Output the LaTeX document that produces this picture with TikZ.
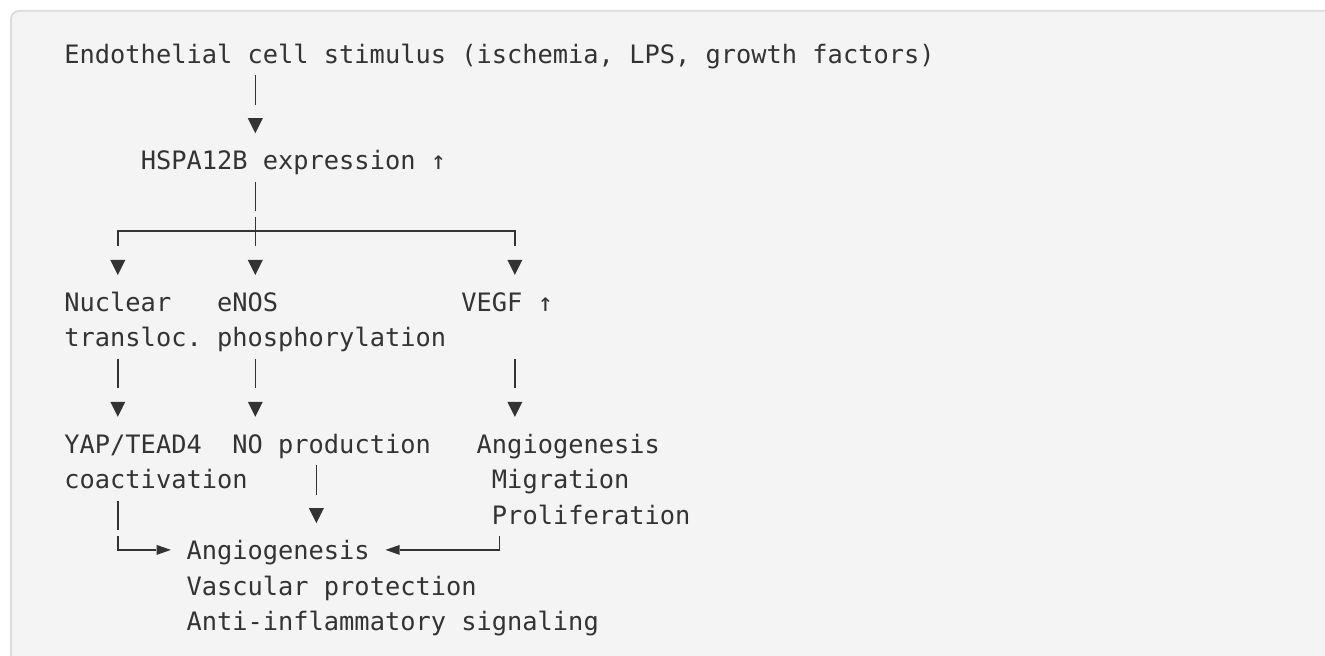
\documentclass[tikz,border=0pt]{standalone}
\usepackage{fontspec}
\newfontfamily\monofam{DejaVu Sans Mono}
\definecolor{ink}{HTML}{333333}
\definecolor{panel}{HTML}{F4F4F4}
\definecolor{rim}{HTML}{DDDDDD}
% a vertical bar filling one text cell, and a downward triangle in one cell
\newcommand\glyphbar[2]{\draw[bar] ({cx(#1)},{rb(#2)-23.4}) -- ({cx(#1)},{rb(#2)+5.9});}
\newcommand\glyphtip[2]{\fill[ink] ({cx(#1)-7.5},{rb(#2)-16}) -- ({cx(#1)+7.5},{rb(#2)-16}) -- ({cx(#1)},{rb(#2)-1}) -- cycle;}
\begin{document}
\begin{tikzpicture}[x=0.5pt, y=-0.5pt,
  declare function={lx(\cc)=64.4+15.27*\cc; cx(\cc)=64.4+15.27*(\cc+0.5);
                    rb(\rr)=63.3+35.45*\rr; hy(\rr)=63.3+35.45*\rr-9.7;},
  txt/.style={anchor=base west, inner sep=0pt, outer sep=0pt, text=ink,
              font=\monofam\fontsize{12.68pt}{15pt}\selectfont},
  bar/.style={draw=ink, line width=0.75pt, line cap=butt, line join=miter}]
\useasboundingbox (0,0) rectangle (1325,656);
\clip (0,0) rectangle (1325,656);
\fill[white] (0,0) rectangle (1325,656);
\draw[draw=rim, fill=panel, line width=1pt, rounded corners=4pt] (11,11) rectangle (1360,700);

% labels, laid out on the character grid
\node[txt] (stim) at ({lx(0)},{rb(0)}) {Endothelial cell stimulus (ischemia, LPS, growth factors)};
\node[txt] (hspa) at ({lx(5)},{rb(3)}) {HSPA12B expression ↑};
\node[txt] (nuc)  at ({lx(0)},{rb(7)}) {Nuclear};
\node[txt] (nucb) at ({lx(0)},{rb(8)}) {transloc.};
\node[txt] (enos) at ({lx(10)},{rb(7)}) {eNOS};
\node[txt] (enosb) at ({lx(10)},{rb(8)}) {phosphorylation};
\node[txt] (vegf) at ({lx(26)},{rb(7)}) {VEGF ↑};
\node[txt] (yap)  at ({lx(0)},{rb(11)}) {YAP/TEAD4};
\node[txt] (yapb) at ({lx(0)},{rb(12)}) {coactivation};
\node[txt] (no)   at ({lx(11)},{rb(11)}) {NO production};
\node[txt] (vang) at ({lx(27)},{rb(11)}) {Angiogenesis};
\node[txt] (vmig) at ({lx(28)},{rb(12)}) {Migration};
\node[txt] (vpro) at ({lx(28)},{rb(13)}) {Proliferation};
\node[txt] (out)  at ({lx(8)},{rb(14)}) {Angiogenesis};
\node[txt] (outb) at ({lx(8)},{rb(15)}) {Vascular protection};
\node[txt] (outc) at ({lx(8)},{rb(16)}) {Anti-inflammatory signaling};

% stimulus -> HSPA12B
\glyphbar{12}{1}
\glyphtip{12}{2}
% HSPA12B -> three branches
\glyphbar{12}{4}
\draw[bar] ({cx(3)},{rb(5)+5.9}) -- ({cx(3)},{hy(5)}) -- ({cx(29)},{hy(5)}) -- ({cx(29)},{rb(5)+5.9});
\draw[bar] ({cx(12)},{rb(5)-23.4}) -- ({cx(12)},{rb(5)+5.9});
\glyphtip{3}{6}
\glyphtip{12}{6}
\glyphtip{29}{6}
% branches -> effectors
\glyphbar{3}{9}
\glyphbar{12}{9}
\glyphbar{29}{9}
\glyphtip{3}{10}
\glyphtip{12}{10}
\glyphtip{29}{10}
% NO production -> outcome column
\glyphbar{16}{12}
\glyphtip{16}{13}
% YAP/TEAD4 -> outcome
\glyphbar{3}{13}
\draw[bar] ({cx(3)},{rb(14)-23.4}) -- ({cx(3)},{hy(14)}) -- ({lx(6)},{hy(14)});
\fill[ink] ({lx(6)+0.6},{hy(14)-5}) -- ({lx(7)-0.4},{hy(14)}) -- ({lx(6)+0.6},{hy(14)+5}) -- cycle;
% VEGF effects -> outcome
\draw[bar] ({cx(28)},{rb(14)-23.4}) -- ({cx(28)},{hy(14)}) -- ({lx(22)},{hy(14)});
\fill[ink] ({lx(22)-0.6},{hy(14)-5}) -- ({lx(21)+0.4},{hy(14)}) -- ({lx(22)-0.6},{hy(14)+5}) -- cycle;
\end{tikzpicture}
\end{document}
